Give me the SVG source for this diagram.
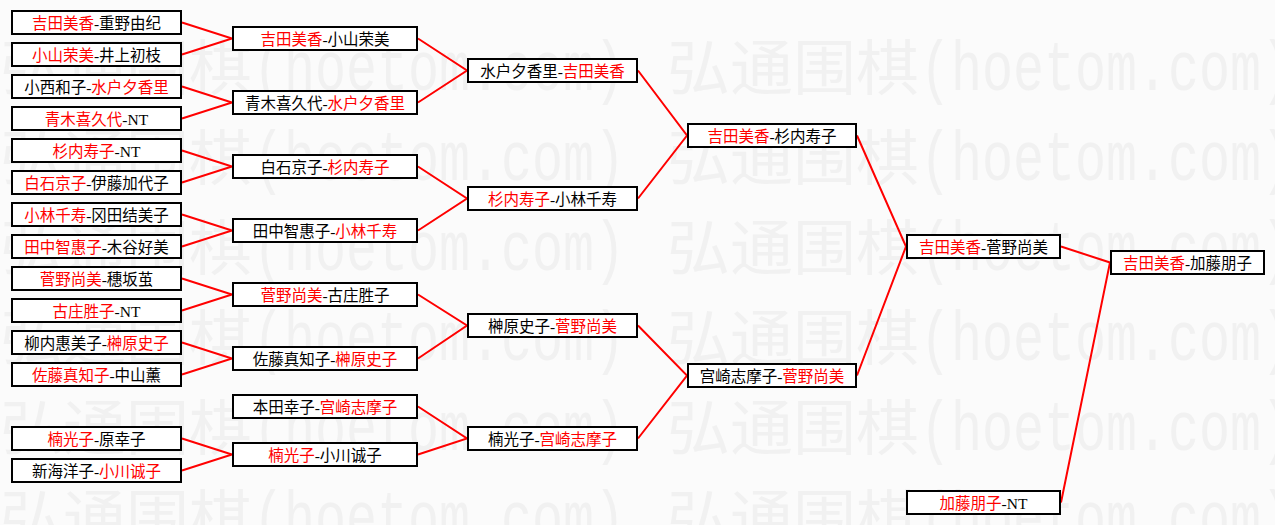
<svg xmlns="http://www.w3.org/2000/svg" width="1275" height="525" viewBox="0 0 1275 525">
<style>
.bg{fill:#fbfbfb}
.wm{fill:#f1f1f1;font-family:"Noto Sans CJK SC",sans-serif;font-size:60px}
.wl{fill:#f1f1f1;font-family:"Liberation Mono",monospace;font-size:70px}
.box{fill:#ffffff;stroke:#000000;stroke-width:2}
.t{font-family:"Liberation Serif","Noto Sans CJK SC",serif;font-size:15.5px;fill:#000000;text-anchor:middle}
.r{fill:#ff0000}
.c{fill:none;stroke:#ff0000;stroke-width:2}
</style>
<rect class="bg" x="0" y="0" width="1275" height="525"/>
<g id="watermark">
<text class="wm" x="0" y="90" textLength="252" lengthAdjust="spacingAndGlyphs">弘通围棋</text><text class="wl" x="253" y="90" textLength="372" lengthAdjust="spacingAndGlyphs">(hoetom.com)</text>
<text class="wm" x="667" y="90" textLength="252" lengthAdjust="spacingAndGlyphs">弘通围棋</text><text class="wl" x="920" y="90" textLength="372" lengthAdjust="spacingAndGlyphs">(hoetom.com)</text>
<text class="wm" x="0" y="180" textLength="252" lengthAdjust="spacingAndGlyphs">弘通围棋</text><text class="wl" x="253" y="180" textLength="372" lengthAdjust="spacingAndGlyphs">(hoetom.com)</text>
<text class="wm" x="667" y="180" textLength="252" lengthAdjust="spacingAndGlyphs">弘通围棋</text><text class="wl" x="920" y="180" textLength="372" lengthAdjust="spacingAndGlyphs">(hoetom.com)</text>
<text class="wm" x="0" y="270" textLength="252" lengthAdjust="spacingAndGlyphs">弘通围棋</text><text class="wl" x="253" y="270" textLength="372" lengthAdjust="spacingAndGlyphs">(hoetom.com)</text>
<text class="wm" x="667" y="270" textLength="252" lengthAdjust="spacingAndGlyphs">弘通围棋</text><text class="wl" x="920" y="270" textLength="372" lengthAdjust="spacingAndGlyphs">(hoetom.com)</text>
<text class="wm" x="0" y="360" textLength="252" lengthAdjust="spacingAndGlyphs">弘通围棋</text><text class="wl" x="253" y="360" textLength="372" lengthAdjust="spacingAndGlyphs">(hoetom.com)</text>
<text class="wm" x="667" y="360" textLength="252" lengthAdjust="spacingAndGlyphs">弘通围棋</text><text class="wl" x="920" y="360" textLength="372" lengthAdjust="spacingAndGlyphs">(hoetom.com)</text>
<text class="wm" x="0" y="450" textLength="252" lengthAdjust="spacingAndGlyphs">弘通围棋</text><text class="wl" x="253" y="450" textLength="372" lengthAdjust="spacingAndGlyphs">(hoetom.com)</text>
<text class="wm" x="667" y="450" textLength="252" lengthAdjust="spacingAndGlyphs">弘通围棋</text><text class="wl" x="920" y="450" textLength="372" lengthAdjust="spacingAndGlyphs">(hoetom.com)</text>
<text class="wm" x="0" y="540" textLength="252" lengthAdjust="spacingAndGlyphs">弘通围棋</text><text class="wl" x="253" y="540" textLength="372" lengthAdjust="spacingAndGlyphs">(hoetom.com)</text>
<text class="wm" x="667" y="540" textLength="252" lengthAdjust="spacingAndGlyphs">弘通围棋</text><text class="wl" x="920" y="540" textLength="372" lengthAdjust="spacingAndGlyphs">(hoetom.com)</text>
</g>
<g id="connectors">
<polyline class="c" points="182,22.5 232,38.5 182,54.5"/>
<polyline class="c" points="182,86.5 232,102.5 182,118.5"/>
<polyline class="c" points="182,150.5 232,166.5 182,182.5"/>
<polyline class="c" points="182,214.5 232,230.5 182,246.5"/>
<polyline class="c" points="182,278.5 232,294.5 182,310.5"/>
<polyline class="c" points="182,342.5 232,358.5 182,374.5"/>
<polyline class="c" points="182,438.5 232,454.5 182,470.5"/>
<polyline class="c" points="418,38.5 467,70.5 418,102.5"/>
<polyline class="c" points="418,166.5 467,198.5 418,230.5"/>
<polyline class="c" points="418,294.5 467,325.5 418,358.5"/>
<polyline class="c" points="418,406.5 467,438.5 418,454.5"/>
<polyline class="c" points="638,70.5 687,135.5 638,198.5"/>
<polyline class="c" points="638,325.5 687,375.5 638,438.5"/>
<polyline class="c" points="857,135.5 906,246.5 857,375.5"/>
<polyline class="c" points="1061,246.5 1110,262.5 1061,502.5"/>
</g>
<g id="r1-1"><rect class="box" x="12" y="11" width="169" height="23"/><text class="t" x="96.5" y="29"><tspan class="r">吉田美香</tspan>-重野由纪</text></g>
<g id="r1-2"><rect class="box" x="12" y="43" width="169" height="23"/><text class="t" x="96.5" y="61"><tspan class="r">小山荣美</tspan>-井上初枝</text></g>
<g id="r1-3"><rect class="box" x="12" y="75" width="169" height="23"/><text class="t" x="96.5" y="93">小西和子-<tspan class="r">水户夕香里</tspan></text></g>
<g id="r1-4"><rect class="box" x="12" y="107" width="169" height="23"/><text class="t" x="96.5" y="125"><tspan class="r">青木喜久代</tspan>-NT</text></g>
<g id="r1-5"><rect class="box" x="12" y="139" width="169" height="23"/><text class="t" x="96.5" y="157"><tspan class="r">杉内寿子</tspan>-NT</text></g>
<g id="r1-6"><rect class="box" x="12" y="171" width="169" height="23"/><text class="t" x="96.5" y="189"><tspan class="r">白石京子</tspan>-伊藤加代子</text></g>
<g id="r1-7"><rect class="box" x="12" y="203" width="169" height="23"/><text class="t" x="96.5" y="221"><tspan class="r">小林千寿</tspan>-冈田结美子</text></g>
<g id="r1-8"><rect class="box" x="12" y="235" width="169" height="23"/><text class="t" x="96.5" y="253"><tspan class="r">田中智惠子</tspan>-木谷好美</text></g>
<g id="r1-9"><rect class="box" x="12" y="267" width="169" height="23"/><text class="t" x="96.5" y="285"><tspan class="r">菅野尚美</tspan>-穗坂茧</text></g>
<g id="r1-10"><rect class="box" x="12" y="299" width="169" height="23"/><text class="t" x="96.5" y="317"><tspan class="r">古庄胜子</tspan>-NT</text></g>
<g id="r1-11"><rect class="box" x="12" y="331" width="169" height="23"/><text class="t" x="96.5" y="349">柳内惠美子-<tspan class="r">榊原史子</tspan></text></g>
<g id="r1-12"><rect class="box" x="12" y="363" width="169" height="23"/><text class="t" x="96.5" y="381"><tspan class="r">佐藤真知子</tspan>-中山薰</text></g>
<g id="r1-13"><rect class="box" x="12" y="427" width="169" height="23"/><text class="t" x="96.5" y="445"><tspan class="r">楠光子</tspan>-原幸子</text></g>
<g id="r1-14"><rect class="box" x="12" y="459" width="169" height="23"/><text class="t" x="96.5" y="477">新海洋子-<tspan class="r">小川诚子</tspan></text></g>
<g id="r2-1"><rect class="box" x="233" y="27" width="184" height="23"/><text class="t" x="325" y="45"><tspan class="r">吉田美香</tspan>-小山荣美</text></g>
<g id="r2-2"><rect class="box" x="233" y="91" width="184" height="23"/><text class="t" x="325" y="109">青木喜久代-<tspan class="r">水户夕香里</tspan></text></g>
<g id="r2-3"><rect class="box" x="233" y="155" width="184" height="23"/><text class="t" x="325" y="173">白石京子-<tspan class="r">杉内寿子</tspan></text></g>
<g id="r2-4"><rect class="box" x="233" y="219" width="184" height="23"/><text class="t" x="325" y="237">田中智惠子-<tspan class="r">小林千寿</tspan></text></g>
<g id="r2-5"><rect class="box" x="233" y="283" width="184" height="23"/><text class="t" x="325" y="301"><tspan class="r">菅野尚美</tspan>-古庄胜子</text></g>
<g id="r2-6"><rect class="box" x="233" y="347" width="184" height="23"/><text class="t" x="325" y="365">佐藤真知子-<tspan class="r">榊原史子</tspan></text></g>
<g id="r2-7"><rect class="box" x="233" y="395" width="184" height="23"/><text class="t" x="325" y="413">本田幸子-<tspan class="r">宫崎志摩子</tspan></text></g>
<g id="r2-8"><rect class="box" x="233" y="443" width="184" height="23"/><text class="t" x="325" y="461"><tspan class="r">楠光子</tspan>-小川诚子</text></g>
<g id="r3-1"><rect class="box" x="468" y="59" width="169" height="23"/><text class="t" x="552.5" y="77">水户夕香里-<tspan class="r">吉田美香</tspan></text></g>
<g id="r3-2"><rect class="box" x="468" y="187" width="169" height="23"/><text class="t" x="552.5" y="205"><tspan class="r">杉内寿子</tspan>-小林千寿</text></g>
<g id="r3-3"><rect class="box" x="468" y="314" width="169" height="23"/><text class="t" x="552.5" y="332">榊原史子-<tspan class="r">菅野尚美</tspan></text></g>
<g id="r3-4"><rect class="box" x="468" y="427" width="169" height="23"/><text class="t" x="552.5" y="445">楠光子-<tspan class="r">宫崎志摩子</tspan></text></g>
<g id="r4-1"><rect class="box" x="688" y="124" width="168" height="23"/><text class="t" x="772" y="142"><tspan class="r">吉田美香</tspan>-杉内寿子</text></g>
<g id="r4-2"><rect class="box" x="688" y="364" width="168" height="23"/><text class="t" x="772" y="382">宫崎志摩子-<tspan class="r">菅野尚美</tspan></text></g>
<g id="r5-1"><rect class="box" x="907" y="235" width="153" height="23"/><text class="t" x="983.5" y="253"><tspan class="r">吉田美香</tspan>-菅野尚美</text></g>
<g id="r5-2"><rect class="box" x="907" y="491" width="153" height="23"/><text class="t" x="983.5" y="509"><tspan class="r">加藤朋子</tspan>-NT</text></g>
<g id="r6-1"><rect class="box" x="1111" y="251" width="153" height="23"/><text class="t" x="1187.5" y="269"><tspan class="r">吉田美香</tspan>-加藤朋子</text></g>
</svg>
